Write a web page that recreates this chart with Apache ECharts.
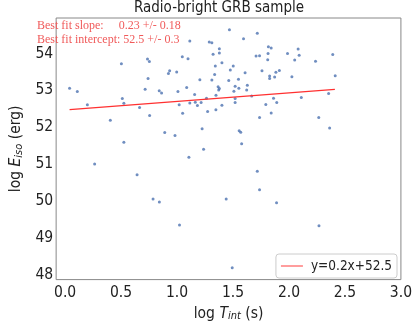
<!DOCTYPE html>
<html>
<head>
<meta charset="utf-8">
<script src="https://cdn.jsdelivr.net/npm/echarts@6/dist/echarts.min.js"></script>
<style>
  html, body { margin: 0; padding: 0; background: #fff; }
  #main { width: 415px; height: 327px; }
</style>
</head>
<body>
<div id="main"></div>
<script>
  // 数据：log T_int 和 log E_iso（从图上读出来的）
  var logT = [
    0.040, 0.109, 0.199, 0.404, 0.503, 0.511, 0.525, 0.665, 0.715, 0.741,
    0.736, 0.753, 0.755, 0.841, 0.862, 0.923, 0.934, 0.997, 1.008, 1.019,
    1.050, 1.047, 1.098, 1.086, 1.114, 1.114, 1.157, 1.163, 1.182, 1.204,
    1.215, 1.263, 1.273, 1.288, 1.311, 1.311, 1.322, 1.342, 1.336, 1.348,
    1.347, 1.367, 1.378, 1.372, 1.378, 1.378, 1.401, 1.401, 1.468, 1.462,
    1.476, 1.502, 1.519, 1.552, 1.508, 1.519, 1.519, 1.549, 1.594, 1.608,
    1.622, 1.667, 1.628, 1.706, 1.737, 1.717, 1.759, 1.737, 1.793, 1.813,
    1.810, 1.816, 1.841, 1.827, 1.827, 1.841, 1.862, 1.872, 1.883, 1.914,
    1.891, 1.987, 2.026, 2.051, 2.082, 2.091, 2.110, 2.237, 2.266, 2.354,
    2.391, 2.413, 2.363, 1.555, 1.569, 1.577, 1.717, 1.737, 1.439, 1.889,
    2.268, 1.493, 0.890, 0.982, 1.224, 0.525, 0.264, 1.106, 1.237, 0.643,
    0.786, 0.842, 1.022
  ];
  var logE = [
    53.06, 52.97, 52.61, 52.19, 53.72, 52.78, 52.65, 52.54, 53.03, 53.32,
    53.85, 53.78, 52.32, 52.99, 52.93, 53.46, 53.53, 53.50, 52.97, 52.61,
    52.38, 53.91, 53.86, 53.08, 54.34, 52.66, 52.89, 52.68, 52.59, 53.29,
    52.67, 52.79, 52.43, 54.31, 54.29, 53.28, 53.98, 53.66, 53.43, 52.87,
    52.48, 53.10, 53.05, 53.01, 54.13, 54.01, 53.75, 52.60, 54.64, 53.27,
    53.55, 53.66, 53.11, 53.06, 52.98, 52.78, 52.67, 53.30, 54.40, 53.48,
    53.01, 52.85, 53.14, 53.93, 53.94, 54.55, 53.53, 52.27, 52.62, 54.00,
    53.83, 54.18, 54.15, 53.39, 53.32, 52.39, 52.79, 53.36, 53.49, 53.54,
    52.67, 54.00, 53.37, 53.82, 54.12, 53.95, 52.81, 53.79, 52.27, 52.92,
    53.97, 53.40, 51.98, 51.91, 51.87, 51.56, 50.81, 50.31, 50.06, 49.96,
    49.34, 48.20, 51.86, 51.78, 51.96, 51.60, 51.01, 51.19, 51.41, 50.72,
    50.06, 49.98, 49.36
  ];
  // 拟合直线的两个端点
  var fitX = [0.04, 2.41];
  var fitY = [52.48, 53.03];
  var fitName = "y=0.2x+52.5";

  var myChart = echarts.init(document.getElementById("main"));

  var font = '"DejaVu Sans Condensed", "DejaVu Sans", sans-serif';

  var option = {
    animation: false,
    title: {
      text: "Radio-bright GRB sample",
      left: 219,
      top: 1,
      textAlign: "center",
      padding: 0,
      textStyle: { fontFamily: font, fontSize: 15, fontWeight: "normal", color: "#222" }
    },
    grid: {
      left: 36,
      right: 13,
      top: 18,
      bottom: 41,
      show: true,
      borderColor: "#888",
      borderWidth: 1
    },
    legend: {
      right: 18,
      top: 254,
      padding: [5, 5, 5, 5],
      itemWidth: 22,
      itemHeight: 2,
      icon: "rect",
      borderColor: "#ccc",
      borderWidth: 1,
      borderRadius: 3,
      data: [{ name: fitName, itemStyle: { color: "rgba(255,60,60,0.5)" } }],
      textStyle: { fontFamily: font, fontSize: 13.5, color: "#222", padding: [0, 0, 0, 3] }
    },
    xAxis: {
      type: "value",
      min: -0.08,
      max: 3.0,
      splitNumber: 6,
      name: "{n|log }{i|T}{s|int}{n| (s)}",
      nameLocation: "middle",
      nameGap: 24,
      nameTextStyle: {
        rich: {
          n: { fontFamily: font, fontSize: 15.5, color: "#222" },
          i: { fontFamily: font, fontSize: 15.5, fontStyle: "italic", color: "#222" },
          s: { fontFamily: font, fontSize: 11, fontStyle: "italic", color: "#222", verticalAlign: "bottom", padding: [6, 0, 0, 0] }
        }
      },
      axisLine: { show: false },
      axisTick: { show: false },
      splitLine: { show: false },
      axisLabel: {
        margin: 5,
        fontFamily: font,
        fontSize: 15.5,
        color: "#222",
        formatter: function (v) {
          return v < 0 ? "" : v.toFixed(1);
        }
      }
    },
    yAxis: {
      type: "value",
      min: 47.88,
      max: 54.96,
      splitNumber: 7,
      name: "{n|log }{i|E}{s|iso}{n| (erg)}",
      nameLocation: "middle",
      nameGap: 22,
      nameTextStyle: {
        rich: {
          n: { fontFamily: font, fontSize: 15.5, color: "#222" },
          i: { fontFamily: font, fontSize: 15.5, fontStyle: "italic", color: "#222" },
          s: { fontFamily: font, fontSize: 11, fontStyle: "italic", color: "#222", verticalAlign: "bottom", padding: [6, 0, 0, 0] }
        }
      },
      axisLine: { show: false },
      axisTick: { show: false },
      splitLine: { show: false },
      axisLabel: {
        margin: 3,
        fontFamily: font,
        fontSize: 15.5,
        color: "#222",
        formatter: function (v) {
          return Math.abs(v - Math.round(v)) < 1e-6 && v < 54.5 ? String(Math.round(v)) : "";
        }
      }
    },
    graphic: [
      {
        type: "text",
        left: 37,
        top: 19,
        style: {
          text: "Best fit slope:     0.23 +/- 0.18\nBest fit intercept: 52.5 +/- 0.3",
          font: '12px "Liberation Serif", serif',
          lineHeight: 14,
          fill: "#f05a5a"
        }
      }
    ],
    series: [
      {
        name: "GRB",
        type: "scatter",
        symbolSize: 3,
        itemStyle: { color: "#4c72b0" },
        data: logT.map(function (t, i) { return [t, logE[i]]; })
      },
      {
        name: fitName,
        type: "line",
        symbol: "none",
        lineStyle: { color: "#ff3030", width: 1.3 },
        itemStyle: { color: "#ff3030" },
        data: fitX.map(function (t, i) { return [t, fitY[i]]; })
      }
    ]
  };

  myChart.setOption(option);
  window.addEventListener("resize", function () {
    myChart.resize();
  });
</script>
</body>
</html>
